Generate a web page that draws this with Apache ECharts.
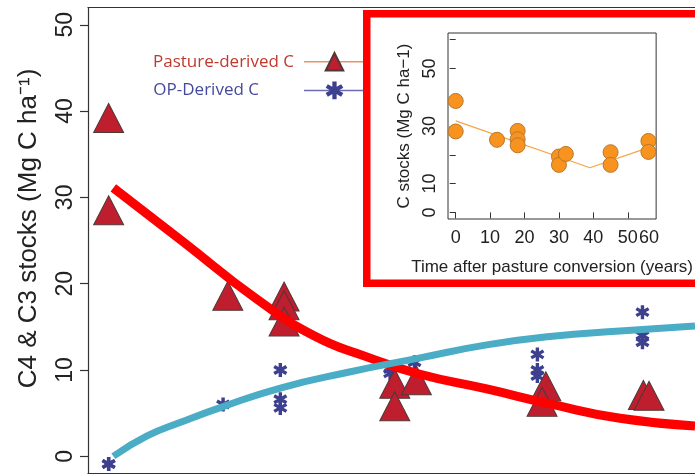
<!DOCTYPE html>
<html>
<head>
<meta charset="utf-8">
<script src="https://cdn.jsdelivr.net/npm/echarts@6/dist/echarts.min.js"></script>
<style>
  html, body { margin: 0; padding: 0; background: #ffffff; }
  #chart { width: 695px; height: 475px; }
</style>
</head>
<body>
<div id="chart"></div>
<script>
// Soil C stocks (Mg C ha-1) against years after pasture conversion

// C4 (pasture-derived) stocks
const pastureYears = [0, 0, 12.7, 18.7, 18.7, 18.7, 30.5, 30.5, 32.8, 46.6, 46.2, 57.0, 57.6];
const pastureC     = [39.2, 28.5, 18.6, 18.5, 17.5, 15.6, 8.4, 5.8, 8.8, 8.1, 6.3, 7.1, 7.0];

// C3 (oil-palm-derived) stocks
const opYears = [0, 0, 12.2, 18.3, 18.3, 18.3, 30.0, 30.0, 32.6, 45.7, 45.7, 45.7, 56.9, 56.9, 56.9];
const opC     = [-0.9, -0.9, 6.0, 10.0, 6.6, 5.6, 10.1, 9.6, 10.9, 11.8, 10.0, 9.3, 16.7, 14.0, 13.2];

// fitted decay of pasture-derived C
const pastureFitYears = [0.5, 8.0, 15.8, 22.0, 27.3, 33.2, 40.3, 47.3, 54.5, 62.5];
const pastureFit      = [31.1, 24.8, 18.2, 13.9, 11.6, 9.5, 7.8, 6.0, 4.4, 3.5];

// fitted build-up of OP-derived C
const opFitYears = [0.5, 4.1, 7.6, 12.2, 18.3, 25.4, 33.2, 40.3, 47.3, 54.5, 62.5];
const opFit      = [0.0, 2.35, 3.9, 5.75, 7.9, 9.7, 11.4, 12.9, 13.9, 14.5, 15.1];

// inset: total C stocks
const totalYears = [0, 0, 12, 18, 18, 18, 30, 30, 32, 45, 45, 56, 56];
const totalC     = [38.7, 28.1, 25.2, 28.3, 25.4, 23.3, 19.4, 16.5, 20.3, 20.9, 16.5, 24.8, 21.0];
const totalFitYears = [0, 39, 56];
const totalFit      = [31.8, 15.5, 22.5];

// axis ticks and labels
const mainYTicks   = [0, 10, 20, 30, 40, 50];
const insetYTicks  = [0, 10, 20, 30, 40, 50, 60];
const insetYLabels = [0, 10, 30, 50];
const insetXTicks  = [0, 10, 20, 30, 40, 50];
const insetXLabelPos  = [0, 10, 20, 30, 40, 50, 56.2];
const insetXLabelText = ['0', '10', '20', '30', '40', '50', '60'];

const pairs = (xs, ys) => xs.map((x, i) => [x, ys[i]]);

// six-armed asterisk marker
const STAR = 'path://M38 0L62 0L62 100L38 100Z' +
  'M87.3 14.6L99.3 35.4L12.7 85.4L0.7 64.6Z' +
  'M0.7 35.4L12.7 14.6L99.3 64.6L87.3 85.4Z';

const AXIS = '#333333';
const FONT = '"Liberation Sans", Arial, sans-serif';
const bareAxis = { axisTick: { show: false }, axisLabel: { show: false }, splitLine: { show: false } };

const chart = echarts.init(document.getElementById('chart'), null, { renderer: 'canvas' });

chart.setOption({
  animation: false,
  backgroundColor: '#ffffff',
  grid: [
    { left: 88, top: 7.5, right: 0, bottom: 1.5, show: false },
    { left: 448, top: 33, right: 14, bottom: 256, show: true, z: 10,
      borderColor: AXIS, borderWidth: 1, backgroundColor: 'transparent' }
  ],
  xAxis: [
    Object.assign({ gridIndex: 0, type: 'value', min: -2.2, max: 62.5, position: 'bottom',
      axisLine: { show: true, onZero: false, lineStyle: { color: AXIS, width: 1.2 } } }, bareAxis),
    Object.assign({ gridIndex: 0, type: 'value', min: -2.2, max: 62.5, position: 'top',
      axisLine: { show: true, onZero: false, lineStyle: { color: AXIS, width: 1.2 } } }, bareAxis),
    { gridIndex: 1, type: 'value', min: -2.24, max: 58.24, z: 10,
      name: 'Time after pasture conversion (years)',
      nameLocation: 'middle', nameGap: 40,
      nameTextStyle: { fontFamily: FONT, fontSize: 17, color: '#222' },
      axisLine: { show: false },
      axisTick: { show: true, length: 6, inside: false, customValues: insetXTicks,
        lineStyle: { color: AXIS, width: 1 } },
      axisLabel: { show: true, customValues: insetXLabelPos, margin: 10,
        fontFamily: FONT, fontSize: 18, color: '#222',
        formatter: v => insetXLabelText[insetXLabelPos.indexOf(v)] },
      splitLine: { show: false } }
  ],
  yAxis: [
    { gridIndex: 0, type: 'value', min: -2, max: 52,
      name: 'C4 & C3 stocks (Mg C ha\u207B\u00B9)',
      nameLocation: 'middle', nameRotate: 90, nameGap: 46,
      nameTextStyle: { fontFamily: FONT, fontSize: 26, color: '#222', padding: [0, 0, 0, 24] },
      axisLine: { show: true, onZero: false, lineStyle: { color: AXIS, width: 1.2 } },
      axisTick: { show: true, length: 8, customValues: mainYTicks,
        lineStyle: { color: AXIS, width: 1.2 } },
      axisLabel: { show: true, rotate: 90, margin: 11, customValues: mainYTicks,
        fontFamily: FONT, fontSize: 23, color: '#222' },
      splitLine: { show: false } },
    { gridIndex: 1, type: 'value', min: -2.3, max: 62.3, z: 10,
      name: 'C stocks (Mg C ha\u22121)',
      nameLocation: 'middle', nameRotate: 90, nameGap: 35,
      nameTextStyle: { fontFamily: FONT, fontSize: 17, color: '#222' },
      axisLine: { show: false },
      axisTick: { show: true, length: 6, customValues: insetYTicks,
        lineStyle: { color: AXIS, width: 1 } },
      axisLabel: { show: true, rotate: 90, margin: 9, customValues: insetYLabels,
        fontFamily: FONT, fontSize: 18, color: '#222' },
      splitLine: { show: false } }
  ],
  legend: {
    orient: 'vertical', left: 148, top: 47, align: 'right',
    itemWidth: 61, itemHeight: 22, itemGap: 10, z: 4,
    textStyle: { fontFamily: '"Open Sans", sans-serif', fontSize: 17 },
    data: [
      { name: 'Pasture-derived C',
        textStyle: { color: '#c0392f', padding: [0, 5, 0, 0] },
        lineStyle: { color: '#e8946a', width: 1.5, opacity: 1 } },
      { name: 'OP-Derived C',
        textStyle: { color: '#464a9c', padding: [0, 40, 0, 0] },
        lineStyle: { color: '#6b6bb0', width: 1.5, opacity: 1 } }
    ]
  },
  graphic: [
    { type: 'rect', z: 5,
      shape: { x: 366.75, y: 13.75, width: 400, height: 269.5 },
      style: { fill: '#ffffff', stroke: '#ff0000', lineWidth: 7.5 } }
  ],
  series: [
    { name: 'OP-Derived C', type: 'line', xAxisIndex: 0, yAxisIndex: 0, z: 2,
      data: pairs(opYears, opC), showAllSymbol: true,
      symbol: STAR, symbolSize: 14,
      itemStyle: { color: '#3d3f8f', borderWidth: 0 },
      lineStyle: { opacity: 0, width: 0 },
      emphasis: { disabled: true } },
    { name: 'Pasture-derived C', type: 'line', xAxisIndex: 0, yAxisIndex: 0, z: 3,
      data: pairs(pastureYears, pastureC), showAllSymbol: true,
      symbol: 'triangle', symbolSize: [30, 29],
      itemStyle: { color: '#be1e2d', borderColor: '#503838', borderWidth: 1 },
      lineStyle: { opacity: 0, width: 0 },
      emphasis: { disabled: true } },
    { type: 'line', xAxisIndex: 0, yAxisIndex: 0, z: 4,
      data: pairs(pastureFitYears, pastureFit), smooth: 0.5, symbol: 'none',
      lineStyle: { color: '#ff0000', width: 9 }, emphasis: { disabled: true } },
    { type: 'line', xAxisIndex: 0, yAxisIndex: 0, z: 4,
      data: pairs(opFitYears, opFit), smooth: 0.5, symbol: 'none',
      lineStyle: { color: '#4bacc6', width: 7 }, emphasis: { disabled: true } },
    { type: 'line', xAxisIndex: 2, yAxisIndex: 1, z: 11,
      data: pairs(totalFitYears, totalFit), symbol: 'none',
      lineStyle: { color: '#f7a449', width: 1.3 }, emphasis: { disabled: true } },
    { type: 'scatter', xAxisIndex: 2, yAxisIndex: 1, z: 12,
      data: pairs(totalYears, totalC), symbol: 'circle', symbolSize: 15,
      itemStyle: { color: '#f7931e', borderColor: '#b9782a', borderWidth: 1, opacity: 1 },
      emphasis: { disabled: true } }
  ]
});
</script>
</body>
</html>
